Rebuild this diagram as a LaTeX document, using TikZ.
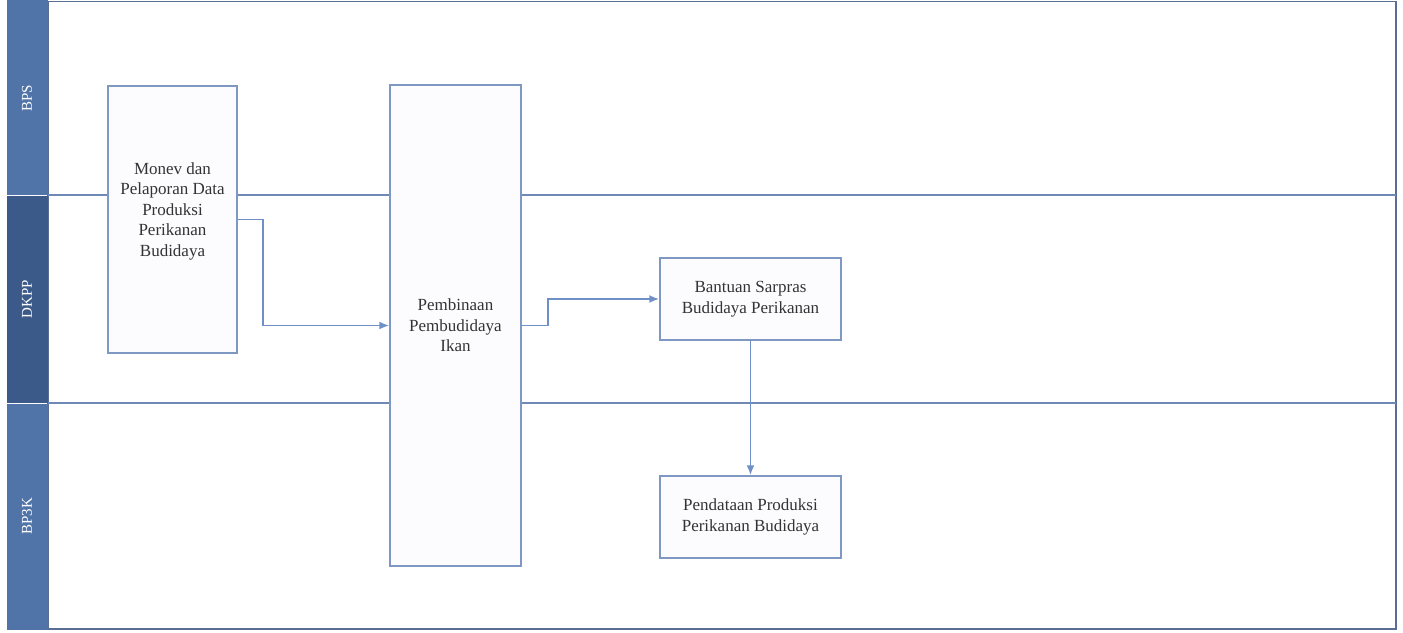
\documentclass[tikz,border=0pt]{standalone}
\usepackage{fontspec}
\setmainfont{Liberation Serif}
\usetikzlibrary{arrows.meta}
\definecolor{barlight}{HTML}{5073A8}
\definecolor{bardark}{HTML}{3C5A89}
\definecolor{laneline}{HTML}{6F89B6}
\definecolor{boxline}{HTML}{7E98C2}
\definecolor{flowline}{HTML}{6E90C6}
\definecolor{boxfill}{HTML}{FCFCFE}
\definecolor{boxtext}{HTML}{333333}
\tikzset{
  lanebar/.style={fill=#1, draw=none},
  lanelabel/.style={rotate=90, text=white, font=\fontsize{15}{17}\selectfont},
  divider/.style={draw=laneline, line width=1.8pt},
  procbox/.style={draw=boxline, fill=boxfill, line width=1.5pt, align=center,
    text=boxtext, font=\fontsize{17}{20.5}\selectfont, inner sep=2pt},
  flow/.style={draw=flowline, line width=1.8pt, -{Latex[length=10pt,width=8pt]}},
}
\begin{document}
\begin{tikzpicture}[x=1pt, y=-1pt]
\useasboundingbox (0,0) rectangle (1403,632);
% swimlane frame
\draw[draw=laneline!80!black, line width=1.8pt] (48,1.5) rectangle (1396,629);
\draw[divider] (48,195) -- (1396,195);
\draw[divider] (48,403) -- (1396,403);
% lane header bars
\fill[lanebar=barlight] (7,0) rectangle (48,195);
\fill[lanebar=bardark] (7,196) rectangle (48,403);
\fill[lanebar=barlight] (7,404) rectangle (48,630);
\node[lanelabel] (lbps) at (27,98) {BPS};
\node[lanelabel] (ldkpp) at (27,299) {DKPP};
\node[lanelabel] (lbp3k) at (27,516) {BP3K};
% process boxes
\node[procbox, minimum width=129pt, minimum height=267pt] (monev) at (172.5,219.5)
  {Monev dan\\Pelaporan Data\\Produksi\\Perikanan\\Budidaya\\\mbox{}};
\node[procbox, minimum width=131pt, minimum height=481pt] (pembinaan) at (455.5,325.5)
  {Pembinaan\\Pembudidaya\\Ikan};
\node[procbox, minimum width=181pt, minimum height=82pt] (bantuan) at (750.5,299)
  {Bantuan Sarpras\\Budidaya Perikanan};
\node[procbox, minimum width=181pt, minimum height=82pt] (pendataan) at (750.5,517)
  {Pendataan Produksi\\Perikanan Budidaya};
% connectors
\draw[flow] (monev.east) -- ++(25,0) |- (pembinaan.west);
\draw[flow] (pembinaan.east) -- ++(26,0) |- (bantuan.west);
\draw[flow] (bantuan.south) -- (pendataan.north);
\end{tikzpicture}
\end{document}
